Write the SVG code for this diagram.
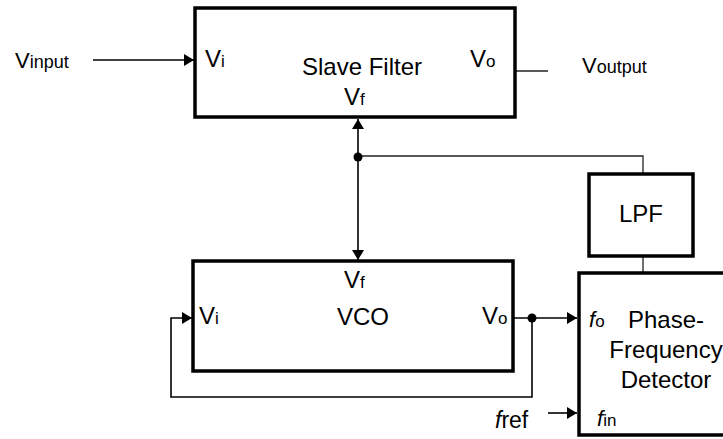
<svg xmlns="http://www.w3.org/2000/svg" width="723" height="439" viewBox="0 0 723 439">
<style>
  .box { fill: #fff; stroke: #000; stroke-width: 3.5; }
  .ln { fill: none; stroke: #000; stroke-width: 1.6; }
  .thin { fill: none; stroke: #222; stroke-width: 1.3; }
  text { font-family: "Liberation Sans", Arial, sans-serif; fill: #000; }
  .big { font-size: 24px; }
  .sub { font-size: 17px; }
  .it { font-style: italic; }
</style>
<defs>
  <marker id="ah" viewBox="0 0 10 12" refX="10" refY="6" markerWidth="10" markerHeight="12" markerUnits="userSpaceOnUse" orient="auto">
    <path d="M0,0 L10,6 L0,12 Z" fill="#000"/>
  </marker>
</defs>

<g id="connectors">
  <line class="ln" x1="93" y1="60" x2="194" y2="60" marker-end="url(#ah)"/>
  <line class="thin" x1="515" y1="71" x2="548" y2="71"/>
  <line class="ln" x1="358" y1="157" x2="358" y2="119" marker-end="url(#ah)"/>
  <line class="ln" x1="358" y1="157" x2="358" y2="260" marker-end="url(#ah)"/>
  <polyline class="thin" points="358,156 643,156 643,174"/>
  <line class="thin" x1="643" y1="256" x2="643" y2="273"/>
  <line class="ln" x1="514" y1="318" x2="577" y2="318" marker-end="url(#ah)"/>
  <polyline class="ln" points="532,318 532,397 171,397 171,318 192,318" marker-end="url(#ah)"/>
  <line class="ln" x1="548" y1="413" x2="577" y2="413" marker-end="url(#ah)"/>
  <circle cx="358" cy="157" r="4.5" fill="#000"/>
  <circle cx="532" cy="318" r="4.5" fill="#000"/>
</g>

<g id="vinput">
  <text x="15" y="68"><tspan class="big" style="font-size:22px">V</tspan><tspan class="sub" style="font-size:18px">input</tspan></text>
</g>

<g id="slave-filter">
  <rect class="box" x="195" y="8" width="320" height="109"/>
  <text x="205" y="67"><tspan class="big">V</tspan><tspan class="sub">i</tspan></text>
  <text class="big" x="362" y="75" text-anchor="middle">Slave Filter</text>
  <text x="470" y="67"><tspan class="big">V</tspan><tspan class="sub">o</tspan></text>
  <text x="344" y="105"><tspan class="big">V</tspan><tspan class="sub">f</tspan></text>
</g>

<g id="voutput">
  <text x="582" y="73"><tspan class="big" style="font-size:22px">V</tspan><tspan class="sub" style="font-size:18px">output</tspan></text>
</g>

<g id="lpf">
  <rect class="box" x="589" y="174" width="104" height="82"/>
  <text class="big" x="641" y="222" text-anchor="middle">LPF</text>
</g>

<g id="vco">
  <rect class="box" x="193" y="261" width="320" height="110"/>
  <text x="344" y="288"><tspan class="big">V</tspan><tspan class="sub">f</tspan></text>
  <text class="big" x="363" y="325" text-anchor="middle">VCO</text>
  <text x="199" y="324"><tspan class="big">V</tspan><tspan class="sub">i</tspan></text>
  <text x="482" y="324"><tspan class="big">V</tspan><tspan class="sub">o</tspan></text>
</g>

<g id="pfd">
  <rect class="box" x="579" y="273" width="160" height="162"/>
  <text x="589" y="327"><tspan class="big it" style="font-size:22px">f</tspan><tspan class="sub">o</tspan></text>
  <text class="big" x="666" y="328" text-anchor="middle">Phase-</text>
  <text class="big" x="666" y="358" text-anchor="middle">Frequency</text>
  <text class="big" x="666" y="388" text-anchor="middle">Detector</text>
  <text x="597" y="426"><tspan class="big it" style="font-size:22px">f</tspan><tspan class="sub">in</tspan></text>
</g>

<g id="fref">
  <text x="495" y="428" style="font-size:23px"><tspan class="it">f</tspan>ref</text>
</g>
</svg>
